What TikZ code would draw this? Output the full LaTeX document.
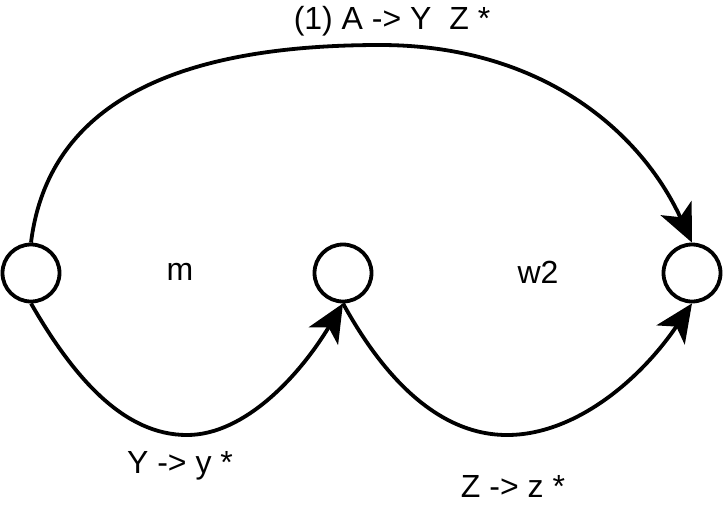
\documentclass[tikz,border=0pt]{standalone}
\usepackage{fontspec}
\setmainfont{Liberation Sans}
\usetikzlibrary{arrows.meta}

\begin{document}
\begin{tikzpicture}[
    x=1pt, y=-1pt,
    font=\fontsize{32}{36}\selectfont,
    state/.style={circle, draw, line width=3.8pt, minimum size=57pt, inner sep=0pt},
    trans/.style={line width=3.8pt, arrows={-Stealth[length=38pt, width=34pt, inset=10pt]}}
]

    \useasboundingbox (0,0) rectangle (723,507);

    % States
    \node[state] (s0) at (31, 273) {};
    \node[state] (s1) at (343, 273) {};
    \node[state] (s2) at (692, 273) {};

    % Region labels
    \node (m)  at (180, 272) {m};
    \node (w2) at (538, 272) {w2};

    % Transitions
    \draw[trans] (s0.north) .. controls (50, 90) and (200, 45) .. (380, 45)
        .. controls (540, 45) and (640, 130) .. (s2.north);
    \draw[trans] (s0.south) .. controls (75, 380) and (125, 435) .. (187, 435)
        .. controls (245, 435) and (300, 375) .. (s1.south);
    \draw[trans] (s1.south) .. controls (385, 380) and (440, 435) .. (507, 435)
        .. controls (575, 435) and (640, 380) .. (s2.south);

    % Transition labels
    \node (t0) at (392, 21) {(1) A -> Y\ \ Z *};
    \node (t1) at (180, 466) {Y -> y *};
    \node (t2) at (513, 486) {Z -> z *};

\end{tikzpicture}
\end{document}
